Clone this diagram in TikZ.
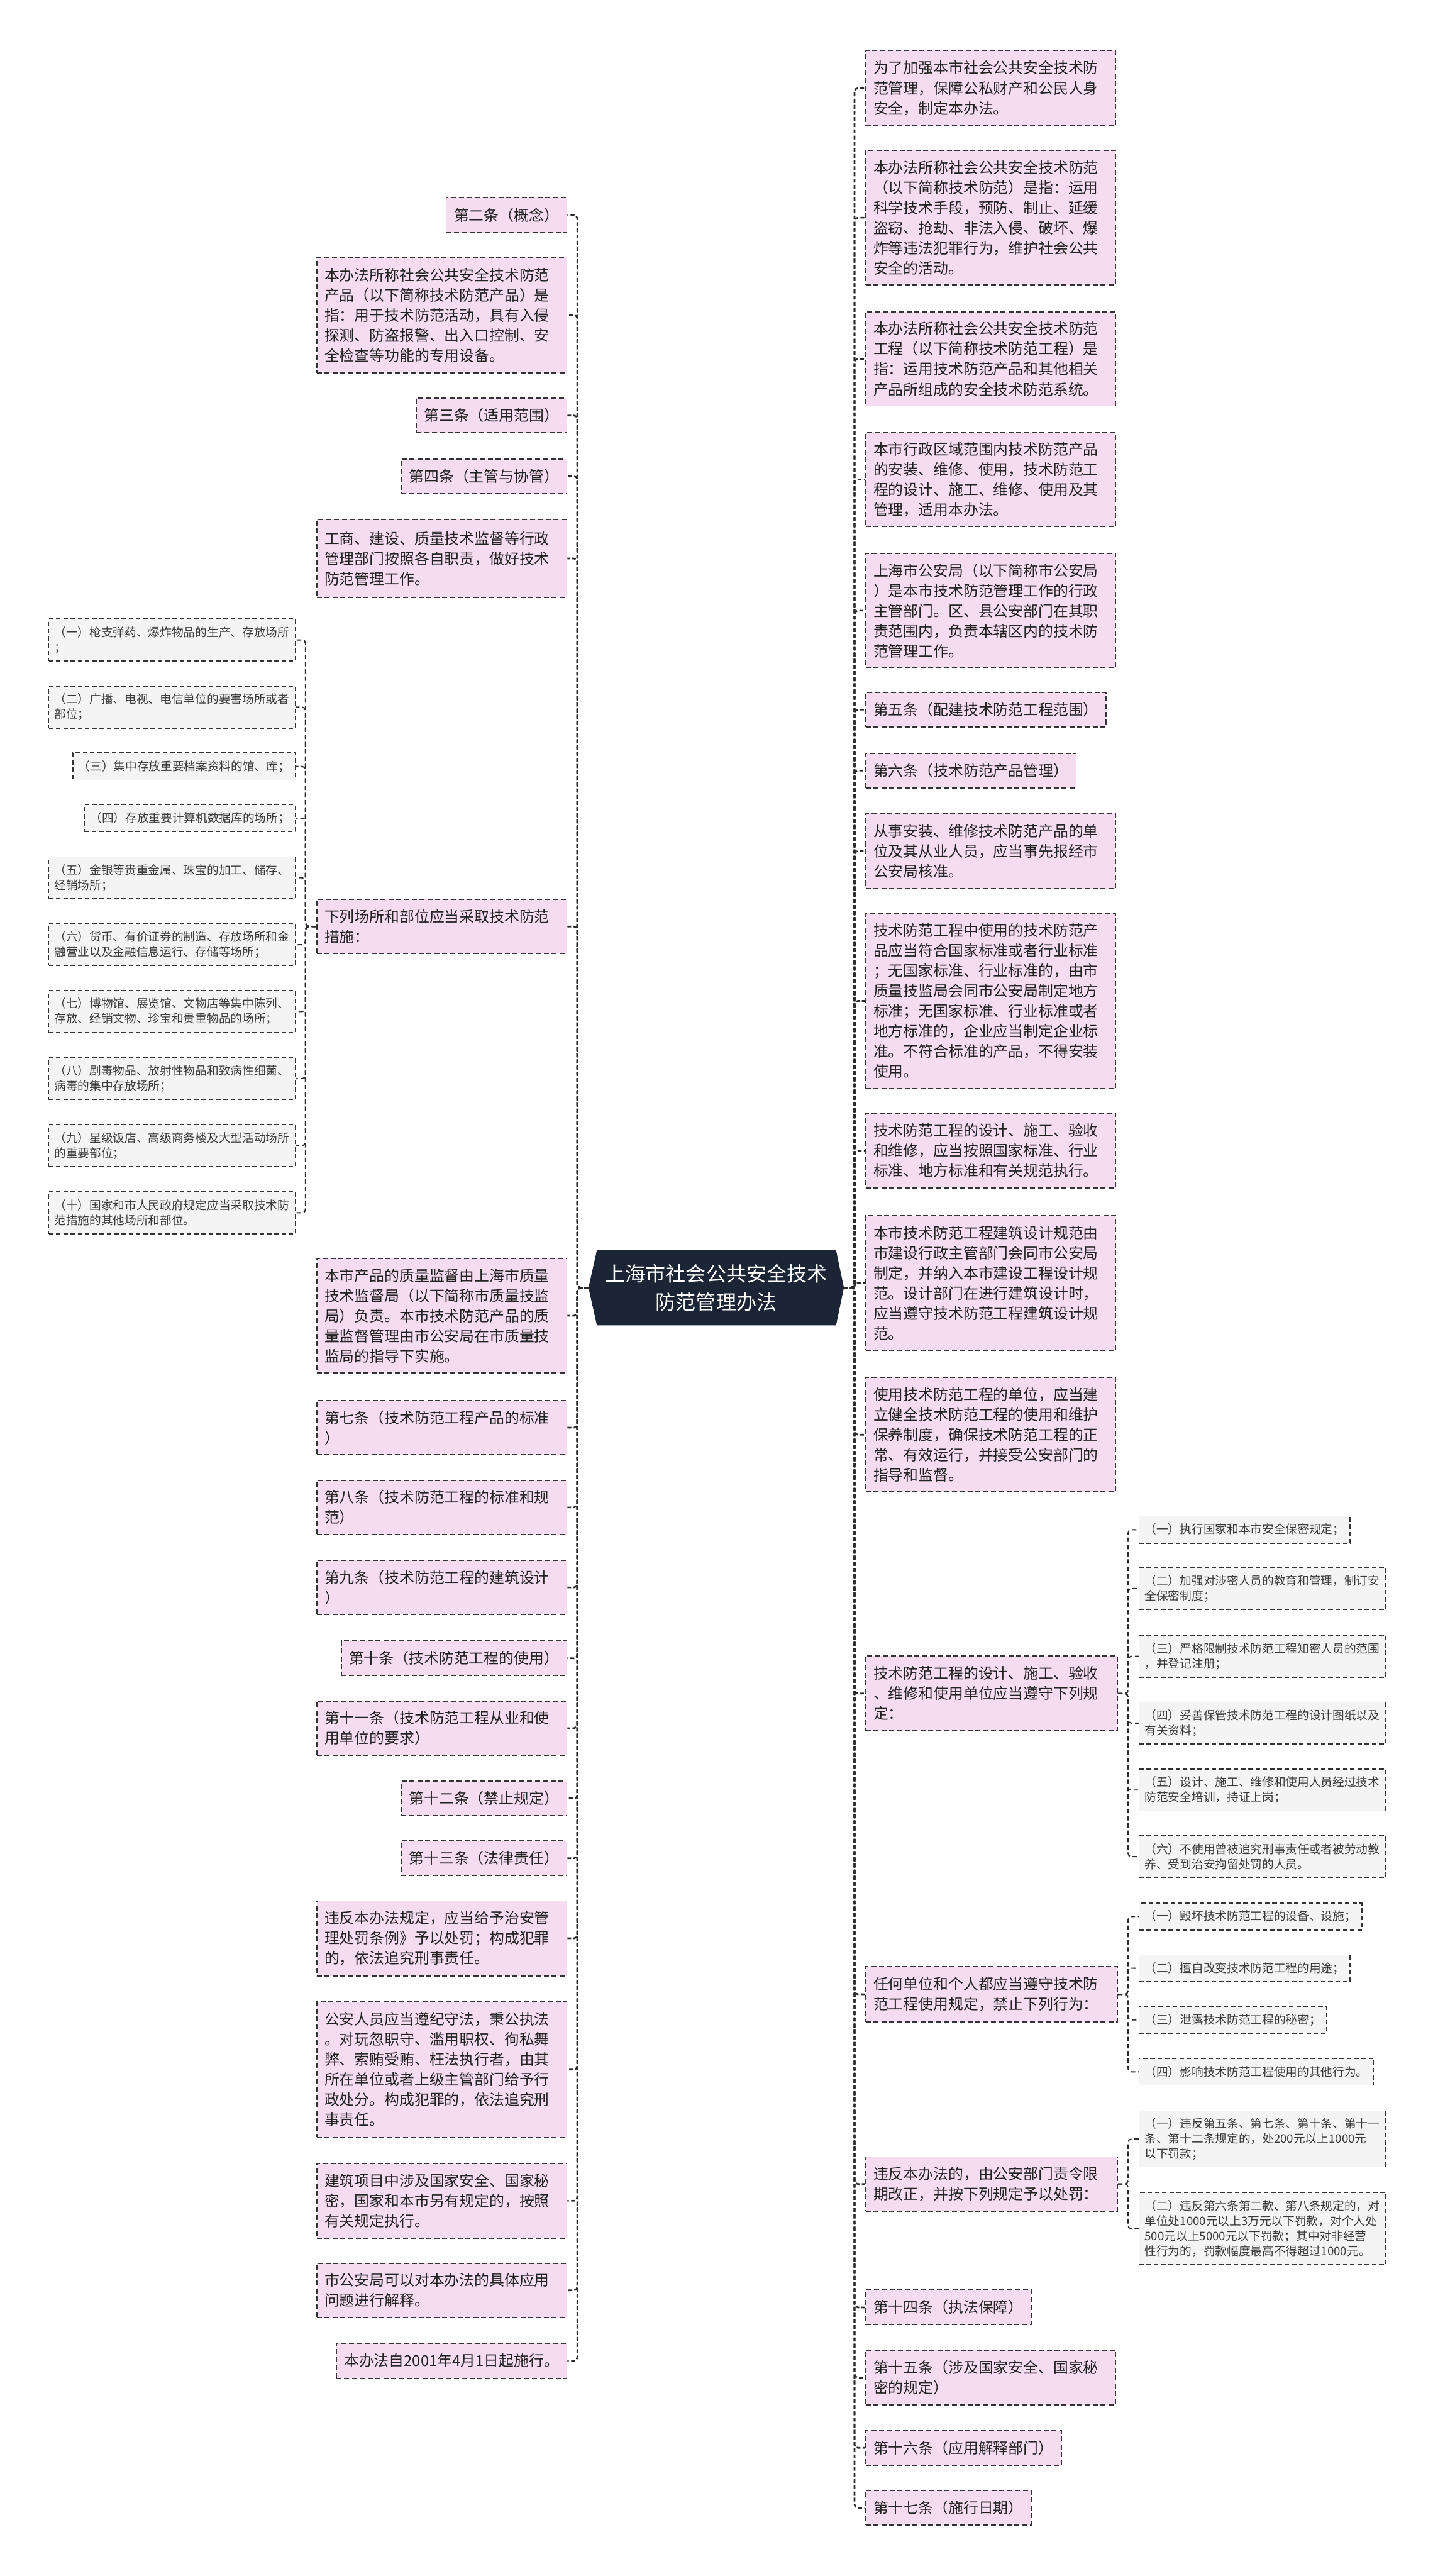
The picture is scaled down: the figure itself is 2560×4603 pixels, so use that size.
\documentclass[tikz,border=0pt]{standalone}
\usepackage{fontspec}
\setmainfont{Noto Sans CJK SC}
\usetikzlibrary{backgrounds}
\definecolor{pinkfill}{HTML}{F6DCF1}
\definecolor{grayfill}{HTML}{F4F4F4}
\definecolor{boxline}{HTML}{333333}
\definecolor{navy}{HTML}{1B2535}
\definecolor{txt}{HTML}{222222}
\definecolor{txtg}{HTML}{3A3A3A}
\definecolor{connc}{HTML}{2A2A2A}
\begin{document}
\begin{tikzpicture}[x=1pt,y=-1pt,
  pbox/.style={draw=boxline, line width=2pt, dash pattern=on 9pt off 5pt, fill=pinkfill, text=txt, font=\fontsize{26.8}{36}\selectfont, inner xsep=14pt, inner ysep=0pt, align=left},
  pmulti/.style={pbox, text width=419pt},
  pwider/.style={pbox, text width=422pt},
  gbox/.style={draw=boxline, line width=1.8pt, dash pattern=on 8pt off 5pt, fill=grayfill, text=txtg, font=\fontsize{21}{27}\selectfont, inner xsep=10pt, inner ysep=0pt, align=left},
  gmulti/.style={gbox, text width=421pt},
  conn/.style={draw=connc, line width=3pt, dash pattern=on 7pt off 4pt, rounded corners=6pt},
  subconn/.style={draw=connc, line width=2.2pt, dash pattern=on 8pt off 5pt, rounded corners=6pt}]
\useasboundingbox (0,0) rectangle (2560,4603);
% centre
\node[minimum width=456pt, minimum height=134pt, inner sep=0pt, text=white, font=\fontsize{36}{50}\selectfont, align=center] (C) at (1280,2301) {上海市社会公共安全技术\\防范管理办法};
\begin{scope}[on background layer]
\fill[white] (0,0) rectangle (2560,4603);
\fill[navy] (C.west) -- ([xshift=15pt]C.north west) -- ([xshift=-14pt]C.north east) -- (C.east) -- ([xshift=-14pt]C.south east) -- ([xshift=15pt]C.south west) -- cycle;
\end{scope}
% left column
\node[pbox,anchor=east,minimum height=63pt] (L1) at (1014,384.5) {第二条（概念）};
\node[pmulti,anchor=east,minimum height=206pt] (L2) at (1014,563) {本办法所称社会公共安全技术防范\\产品（以下简称技术防范产品）是\\指：用于技术防范活动，具有入侵\\探测、防盗报警、出入口控制、安\\全检查等功能的专用设备。};
\node[pbox,anchor=east,minimum height=62pt] (L3) at (1014,742.5) {第三条（适用范围）};
\node[pbox,anchor=east,minimum height=62pt] (L4) at (1014,851) {第四条（主管与协管）};
\node[pmulti,anchor=east,minimum height=140pt] (L5) at (1014,998) {工商、建设、质量技术监督等行政\\管理部门按照各自职责，做好技术\\防范管理工作。};
\node[pmulti,anchor=east,minimum height=97pt] (L6) at (1014,1655.5) {下列场所和部位应当采取技术防范\\措施：};
\node[pmulti,anchor=east,minimum height=204pt] (L7) at (1014,2351) {本市产品的质量监督由上海市质量\\技术监督局（以下简称市质量技监\\局）负责。本市技术防范产品的质\\量监督管理由市公安局在市质量技\\监局的指导下实施。};
\node[pmulti,anchor=east,minimum height=97pt] (L8) at (1014,2551) {第七条（技术防范工程产品的标准\\）};
\node[pmulti,anchor=east,minimum height=97pt] (L9) at (1014,2693.5) {第八条（技术防范工程的标准和规\\范）};
\node[pmulti,anchor=east,minimum height=97pt] (L10) at (1014,2836.5) {第九条（技术防范工程的建筑设计\\）};
\node[pbox,anchor=east,minimum height=62pt] (L11) at (1014,2963) {第十条（技术防范工程的使用）};
\node[pmulti,anchor=east,minimum height=97pt] (L12) at (1014,3088) {第十一条（技术防范工程从业和使\\用单位的要求）};
\node[pbox,anchor=east,minimum height=62pt] (L13) at (1014,3213.5) {第十二条（禁止规定）};
\node[pbox,anchor=east,minimum height=62pt] (L14) at (1014,3320.5) {第十三条（法律责任）};
\node[pmulti,anchor=east,minimum height=134pt] (L15) at (1014,3463.5) {违反本办法规定，应当给予治安管\\理处罚条例》予以处罚；构成犯罪\\的，依法追究刑事责任。};
\node[pmulti,anchor=east,minimum height=242pt] (L16) at (1014,3698) {公安人员应当遵纪守法，秉公执法\\。对玩忽职守、滥用职权、徇私舞\\弊、索贿受贿、枉法执行者，由其\\所在单位或者上级主管部门给予行\\政处分。构成犯罪的，依法追究刑\\事责任。};
\node[pmulti,anchor=east,minimum height=134pt] (L17) at (1014,3932.5) {建筑项目中涉及国家安全、国家秘\\密，国家和本市另有规定的，按照\\有关规定执行。};
\node[pmulti,anchor=east,minimum height=97pt] (L18) at (1014,4092.5) {市公安局可以对本办法的具体应用\\问题进行解释。};
\node[pbox,anchor=east,minimum height=62pt] (L19) at (1014,4218.5) {本办法自2001年4月1日起施行。};
% far left
\node[gmulti,anchor=east,minimum height=75pt] (F1) at (529,1143.5) {（一）枪支弹药、爆炸物品的生产、存放场所\\；};
\node[gmulti,anchor=east,minimum height=75pt] (F2) at (529,1263.5) {（二）广播、电视、电信单位的要害场所或者\\部位；};
\node[gbox,anchor=east,minimum height=49pt] (F3) at (529,1369.5) {（三）集中存放重要档案资料的馆、库；};
\node[gbox,anchor=east,minimum height=48pt] (F4) at (529,1462) {（四）存放重要计算机数据库的场所；};
\node[gmulti,anchor=east,minimum height=75pt] (F5) at (529,1568.5) {（五）金银等贵重金属、珠宝的加工、储存、\\经销场所；};
\node[gmulti,anchor=east,minimum height=75pt] (F6) at (529,1688) {（六）货币、有价证券的制造、存放场所和金\\融营业以及金融信息运行、存储等场所；};
\node[gmulti,anchor=east,minimum height=75pt] (F7) at (529,1807.5) {（七）博物馆、展览馆、文物店等集中陈列、\\存放、经销文物、珍宝和贵重物品的场所；};
\node[gmulti,anchor=east,minimum height=75pt] (F8) at (529,1927.5) {（八）剧毒物品、放射性物品和致病性细菌、\\病毒的集中存放场所；};
\node[gmulti,anchor=east,minimum height=75pt] (F9) at (529,2047) {（九）星级饭店、高级商务楼及大型活动场所\\的重要部位；};
\node[gmulti,anchor=east,minimum height=75pt] (F10) at (529,2167) {（十）国家和市人民政府规定应当采取技术防\\范措施的其他场所和部位。};
% right column
\node[pmulti,anchor=west,minimum height=135pt] (R1) at (1546,157.5) {为了加强本市社会公共安全技术防\\范管理，保障公私财产和公民人身\\安全，制定本办法。};
\node[pmulti,anchor=west,minimum height=240pt] (R2) at (1546,389) {本办法所称社会公共安全技术防范\\（以下简称技术防范）是指：运用\\科学技术手段，预防、制止、延缓\\盗窃、抢劫、非法入侵、破坏、爆\\炸等违法犯罪行为，维护社会公共\\安全的活动。};
\node[pmulti,anchor=west,minimum height=168pt] (R3) at (1546,641.5) {本办法所称社会公共安全技术防范\\工程（以下简称技术防范工程）是\\指：运用技术防范产品和其他相关\\产品所组成的安全技术防范系统。};
\node[pmulti,anchor=west,minimum height=168pt] (R4) at (1546,857) {本市行政区域范围内技术防范产品\\的安装、维修、使用，技术防范工\\程的设计、施工、维修、使用及其\\管理，适用本办法。};
\node[pmulti,anchor=west,minimum height=204pt] (R5) at (1546,1091) {上海市公安局（以下简称市公安局\\）是本市技术防范管理工作的行政\\主管部门。区、县公安部门在其职\\责范围内，负责本辖区内的技术防\\范管理工作。};
\node[pbox,anchor=west,minimum height=62pt] (R6) at (1546,1268) {第五条（配建技术防范工程范围）};
\node[pbox,anchor=west,minimum height=62pt] (R7) at (1546,1377) {第六条（技术防范产品管理）};
\node[pmulti,anchor=west,minimum height=134pt] (R8) at (1546,1520.5) {从事安装、维修技术防范产品的单\\位及其从业人员，应当事先报经市\\公安局核准。};
\node[pmulti,anchor=west,minimum height=313pt] (R9) at (1546,1788.5) {技术防范工程中使用的技术防范产\\品应当符合国家标准或者行业标准\\；无国家标准、行业标准的，由市\\质量技监局会同市公安局制定地方\\标准；无国家标准、行业标准或者\\地方标准的，企业应当制定企业标\\准。不符合标准的产品，不得安装\\使用。};
\node[pmulti,anchor=west,minimum height=134pt] (R10) at (1546,2056) {技术防范工程的设计、施工、验收\\和维修，应当按照国家标准、行业\\标准、地方标准和有关规范执行。};
\node[pmulti,anchor=west,minimum height=240pt] (R11) at (1546,2292.5) {本市技术防范工程建筑设计规范由\\市建设行政主管部门会同市公安局\\制定，并纳入本市建设工程设计规\\范。设计部门在进行建筑设计时，\\应当遵守技术防范工程建筑设计规\\范。};
\node[pmulti,anchor=west,minimum height=204pt] (R12) at (1546,2563.5) {使用技术防范工程的单位，应当建\\立健全技术防范工程的使用和维护\\保养制度，确保技术防范工程的正\\常、有效运行，并接受公安部门的\\指导和监督。};
\node[pwider,anchor=west,minimum height=134pt] (R13) at (1546,3026) {技术防范工程的设计、施工、验收\\、维修和使用单位应当遵守下列规\\定：};
\node[pwider,anchor=west,minimum height=99pt] (R14) at (1546,3563.5) {任何单位和个人都应当遵守技术防\\范工程使用规定，禁止下列行为：};
\node[pwider,anchor=west,minimum height=97pt] (R15) at (1546,3902.5) {违反本办法的，由公安部门责令限\\期改正，并按下列规定予以处罚：};
\node[pbox,anchor=west,minimum height=62pt] (R16) at (1546,4123) {第十四条（执法保障）};
\node[pmulti,anchor=west,minimum height=97pt] (R17) at (1546,4248.5) {第十五条（涉及国家安全、国家秘\\密的规定）};
\node[pbox,anchor=west,minimum height=62pt] (R18) at (1546,4374) {第十六条（应用解释部门）};
\node[pbox,anchor=west,minimum height=62pt] (R19) at (1546,4481) {第十七条（施行日期）};
% right sub nodes
\node[gbox,anchor=west,minimum height=49pt] (S1) at (2035,2733.5) {（一）执行国家和本市安全保密规定；};
\node[gmulti,anchor=west,minimum height=75pt] (S2) at (2035,2838.5) {（二）加强对涉密人员的教育和管理，制订安\\全保密制度；};
\node[gmulti,anchor=west,minimum height=75pt] (S3) at (2035,2959.5) {（三）严格限制技术防范工程知密人员的范围\\，并登记注册；};
\node[gmulti,anchor=west,minimum height=75pt] (S4) at (2035,3079) {（四）妥善保管技术防范工程的设计图纸以及\\有关资料；};
\node[gmulti,anchor=west,minimum height=75pt] (S5) at (2035,3198.5) {（五）设计、施工、维修和使用人员经过技术\\防范安全培训，持证上岗；};
\node[gmulti,anchor=west,minimum height=75pt] (S6) at (2035,3317.5) {（六）不使用曾被追究刑事责任或者被劳动教\\养、受到治安拘留处罚的人员。};
\node[gbox,anchor=west,minimum height=48pt] (T1) at (2035,3424.5) {（一）毁坏技术防范工程的设备、设施；};
\node[gbox,anchor=west,minimum height=48pt] (T2) at (2035,3517) {（二）擅自改变技术防范工程的用途；};
\node[gbox,anchor=west,minimum height=48pt] (T3) at (2035,3609) {（三）泄露技术防范工程的秘密；};
\node[gbox,anchor=west,minimum height=48pt] (T4) at (2035,3702) {（四）影响技术防范工程使用的其他行为。};
\node[gmulti,anchor=west,minimum height=100pt] (U1) at (2035,3822) {（一）违反第五条、第七条、第十条、第十一\\条、第十二条规定的，处200元以上1000元\\以下罚款；};
\node[gmulti,anchor=west,minimum height=129pt] (U2) at (2035,3982.5) {（二）违反第六条第二款、第八条规定的，对\\单位处1000元以上3万元以下罚款，对个人处\\500元以上5000元以下罚款；其中对非经营\\性行为的，罚款幅度最高不得超过1000元。};
% connectors
\foreach \n in {L1,L2,L3,L4,L5,L6,L7,L8,L9,L10,L11,L12,L13,L14,L15,L16,L17,L18,L19}
  \draw[conn] (C.west) -- ++(-20,0) |- (\n.east);
\foreach \n in {F1,F2,F3,F4,F5,F6,F7,F8,F9,F10}
  \draw[subconn] (L6.west) -- ++(-19,0) |- (\n.east);
\foreach \n in {R1,R2,R3,R4,R5,R6,R7,R8,R9,R10,R11,R12,R13,R14,R15,R16,R17,R18,R19}
  \draw[conn] (C.east) -- ++(19,0) |- (\n.west);
\foreach \n in {S1,S2,S3,S4,S5,S6}
  \draw[subconn] (R13.east) -- ++(18,0) |- (\n.west);
\foreach \n in {T1,T2,T3,T4}
  \draw[subconn] (R14.east) -- ++(18,0) |- (\n.west);
\foreach \n in {U1,U2}
  \draw[subconn] (R15.east) -- ++(18,0) |- (\n.west);
\end{tikzpicture}
\end{document}
